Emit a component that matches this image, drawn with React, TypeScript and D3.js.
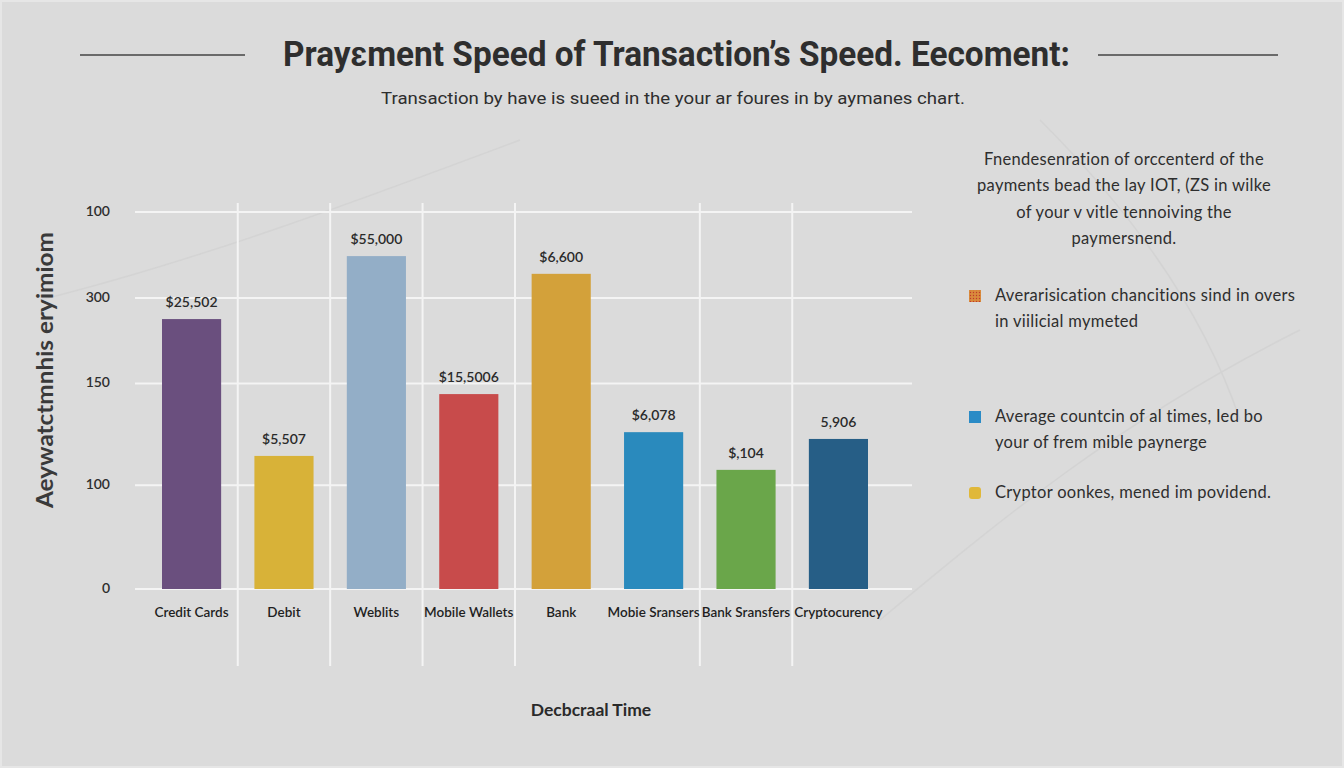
import * as d3 from "d3";
import React from "react";

// categories, bar heights (0-100 axis) and the value tags printed above the bars
const categories = [
    "Credit Cards", "Debit", "Weblits", "Mobile Wallets",
    "Bank", "Mobie Sransers", "Bank Sransfers", "Cryptocurency",
];
const values = [71.6, 35.3, 88.3, 51.7, 83.6, 41.6, 31.6, 39.8];
const valueTags = ["$25,502", "$5,507", "$55,000", "$15,5006", "$6,600", "$6,078", "$,104", "5,906"];
const barColors = ["#6a4f7e", "#d8b238", "#93aec7", "#c84b4b", "#d3a13a", "#2a8abd", "#6aa64a", "#265e86"];

// y ticks: position on the axis and the label printed there
const tickValues = [0, 27.5, 54.5, 77.2, 100];
const tickLabels = ["0", "100", "150", "300", "100"];

const noteLines = [
    "Fnendesenration of orccenterd of the",
    "payments bead the lay IOT, (ZS in wilke",
    "of your v vitle tennoiving the",
    "paymersnend.",
];
const legendItems = [
    { color: "#d98a3c", lines: ["Averarisication chancitions sind in overs", "in viilicial mymeted"], round: false, dotted: true },
    { color: "#2a8bc6", lines: ["Average countcin of al times, Ied bo", "your of frem mible paynerge"], round: false, dotted: false },
    { color: "#e0b83a", lines: ["Cryptor oonkes, mened im povidend."], round: true, dotted: false },
];

const W = 1344;
const H = 768;
const plot = { left: 135, right: 912, top: 212, bottom: 589 };
const font = "Lato, 'Open Sans', sans-serif";

export default function App() {
    const x = d3.scaleBand<string>()
        .domain(categories)
        .range([162, 868])
        .paddingInner(0.36)
        .paddingOuter(0);
    const y = d3.scaleLinear().domain([0, 100]).range([plot.bottom, plot.top]);
    const gap = x.step() * x.paddingInner();

    // vertical guides sit in the gaps between bars (none between Bank and Mobie Sransers)
    const vGuides = [1, 2, 3, 4, 6, 7].map(i => x(categories[i])! - gap / 2);

    return (
        <svg width={W} height={H} style={{ position: "absolute", left: 0, top: 0, display: "block" }}>
            <defs>
                <pattern id="dots" width="3" height="3" patternUnits="userSpaceOnUse">
                    <rect width="3" height="3" fill="#d98a3c" />
                    <circle cx="1.5" cy="1.5" r="0.7" fill="#c0392b" />
                </pattern>
            </defs>
            <rect width={W} height={H} fill="#dbdbdb" />
            <rect x={1} y={1} width={W - 2} height={H - 2} fill="none" stroke="#e6e6e6" strokeWidth={2} />

            {/* faint background swirls */}
            <g fill="none" stroke="#cfcfcf" strokeWidth={1.5} opacity={0.6}>
                <path d="M 40 300 C 200 260, 360 200, 520 140" />
                <path d="M 880 620 C 1000 520, 1120 420, 1300 330" />
                <path d="M 1040 120 C 1120 200, 1200 300, 1240 420" />
            </g>

            {/* title */}
            <line x1={80} x2={245} y1={55} y2={55} stroke="#6a6a6a" strokeWidth={2} />
            <line x1={1098} x2={1278} y1={55} y2={55} stroke="#6a6a6a" strokeWidth={2} />
            <text x={283} y={66} fontFamily="Roboto, sans-serif" fontWeight={700} fontSize={35} fill="#2e2e2e"
                textLength={787} lengthAdjust="spacingAndGlyphs">Prayɛment Speed of Transaction’s Speed. Eecoment:</text>
            <text x={381} y={104} fontFamily="Roboto, sans-serif" fontSize={17} fill="#2e2e2e"
                textLength={584} lengthAdjust="spacingAndGlyphs">Transaction by have is sueed in the your ar foures in by aymanes chart.</text>

            {/* grid */}
            <g stroke="#f4f4f4" strokeWidth={2}>
                {tickValues.map(t => (
                    <line key={t} x1={plot.left} x2={plot.right} y1={y(t)} y2={y(t)} />
                ))}
                {vGuides.map(gx => (
                    <line key={gx} x1={gx} x2={gx} y1={203} y2={666} />
                ))}
            </g>

            {/* y axis */}
            {tickValues.map((t, i) => (
                <text key={t} x={110} y={y(t)} textAnchor="end" dominantBaseline="middle"
                    fontFamily={font} fontWeight={600} fontSize={14} fill="#2e2e2e">{tickLabels[i]}</text>
            ))}
            <text transform="translate(53,370) rotate(-90)" textAnchor="middle"
                fontFamily={font} fontWeight={700} fontSize={22} fill="#3a3a3a"
                textLength={276} lengthAdjust="spacingAndGlyphs">Aeywatctmnhis  eryimiom</text>

            {/* bars */}
            {categories.map((c, i) => (
                <g key={c}>
                    <rect x={x(c)} y={y(values[i])} width={x.bandwidth()} height={y(0) - y(values[i])} fill={barColors[i]} />
                    <text x={x(c)! + x.bandwidth() / 2} y={y(values[i]) - 12} textAnchor="middle"
                        fontFamily={font} fontWeight={600} fontSize={14} fill="#2a2a2a">{valueTags[i]}</text>
                    <text x={x(c)! + x.bandwidth() / 2} y={617} textAnchor="middle"
                        fontFamily={font} fontWeight={600} fontSize={13.5} fill="#1f1f1f">{c}</text>
                </g>
            ))}

            <text x={591} y={716} textAnchor="middle" fontFamily={font} fontWeight={700} fontSize={17.5} fill="#2a2a2a">Decbcraal Time</text>

            {/* side note + legend */}
            {noteLines.map((l, i) => (
                <text key={l} x={1124} y={165 + i * 26.3} textAnchor="middle"
                    fontFamily={font} fontSize={16.5} letterSpacing={0.3} fill="#2e2e2e">{l}</text>
            ))}
            {legendItems.map((it, k) => {
                const top = [296, 417, 493][k];
                return (
                    <g key={k}>
                        <rect x={969} y={top - 6} width={12} height={12} rx={it.round ? 3 : 0}
                            fill={it.dotted ? "url(#dots)" : it.color} />
                        {it.lines.map((l, j) => (
                            <text key={j} x={995} y={top + 5 + j * 25.5} fontFamily={font} fontSize={16.5}
                                letterSpacing={0.3} fill="#2e2e2e">{l}</text>
                        ))}
                    </g>
                );
            })}
        </svg>
    );
}
